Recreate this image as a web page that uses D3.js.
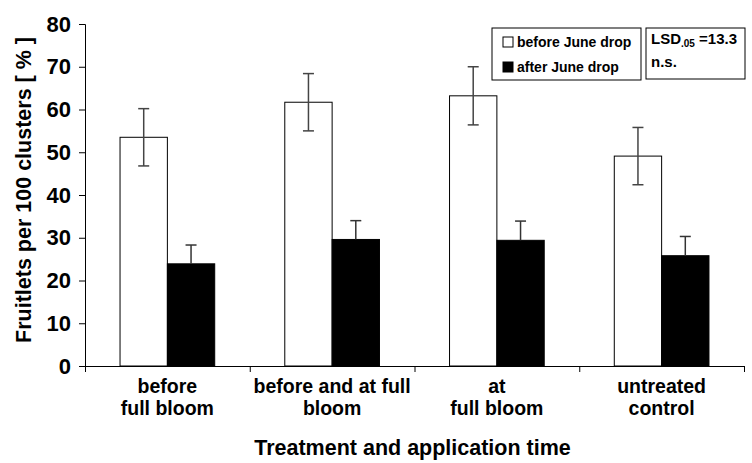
<!DOCTYPE html>
<html>
<head>
<meta charset="utf-8">
<script src="https://cdn.jsdelivr.net/npm/d3@7"></script>
<style>
  html, body { margin: 0; padding: 0; background: #fff; }
  svg text { font-family: "Liberation Sans", Arial, Helvetica, sans-serif; font-weight: bold; fill: #000; }
</style>
</head>
<body>
<svg id="chart" width="752" height="463"></svg>
<script>
// Treatment groups (two-line labels)
const categories = [
  ["before", "full bloom"],
  ["before and at full", "bloom"],
  ["at", "full bloom"],
  ["untreated", "control"]
];
const seriesNames = ["before June drop", "after June drop"];
const beforeDrop = [53.5, 61.7, 63.2, 49.1];
const afterDrop = [23.9, 29.6, 29.4, 25.8];
const beforeErr = [6.7, 6.7, 6.8, 6.7];
const afterErr = [4.4, 4.4, 4.5, 4.5];
const yTicks = [0, 10, 20, 30, 40, 50, 60, 70, 80];

const svg = d3.select("#chart");
const plotLeft = 85, plotRight = 744, plotTop = 24, plotBottom = 366;

const catIdx = categories.map((d, i) => i);
const x0 = d3.scaleBand().domain(catIdx).range([plotLeft, plotRight]).padding(0);
const x1 = d3.scaleBand().domain([0, 1]).range([0, x0.bandwidth()])
  .paddingInner(0).paddingOuter(0.74);
const y = d3.scaleLinear().domain([0, 80]).range([plotBottom, plotTop]);

const rows = catIdx.map(i => [
  { s: 0, v: beforeDrop[i], e: beforeErr[i] },
  { s: 1, v: afterDrop[i], e: afterErr[i] }
]);

// Bars
const g = svg.append("g");
const groups = g.selectAll("g.grp").data(rows).join("g")
  .attr("transform", (d, i) => `translate(${x0(i)},0)`);

groups.selectAll("rect").data(d => d).join("rect")
  .attr("x", d => x1(d.s))
  .attr("y", d => y(d.v))
  .attr("width", x1.bandwidth())
  .attr("height", d => y(0) - y(d.v))
  .attr("fill", d => d.s === 0 ? "#fff" : "#000")
  .attr("stroke", "#000")
  .attr("stroke-width", 1);

// Error bars
const errG = groups.selectAll("g.err").data(d => d).join("g")
  .attr("stroke", d => d.s === 0 ? "#444" : "#333")
  .attr("stroke-width", 1.5);
errG.append("line")
  .attr("x1", d => x1(d.s) + x1.bandwidth() / 2)
  .attr("x2", d => x1(d.s) + x1.bandwidth() / 2)
  .attr("y1", d => y(d.v + d.e))
  .attr("y2", d => y(d.s === 0 ? d.v - d.e : d.v));
errG.append("line")
  .attr("x1", d => x1(d.s) + x1.bandwidth() / 2 - 5.5)
  .attr("x2", d => x1(d.s) + x1.bandwidth() / 2 + 5.5)
  .attr("y1", d => y(d.v + d.e))
  .attr("y2", d => y(d.v + d.e));
errG.filter(d => d.s === 0).append("line")
  .attr("x1", d => x1(d.s) + x1.bandwidth() / 2 - 5.5)
  .attr("x2", d => x1(d.s) + x1.bandwidth() / 2 + 5.5)
  .attr("y1", d => y(d.v - d.e))
  .attr("y2", d => y(d.v - d.e));

// Y axis
const yAxis = svg.append("g")
  .attr("transform", `translate(${plotLeft},0)`)
  .call(d3.axisLeft(y).tickValues(yTicks).tickSize(6).tickPadding(8));
yAxis.selectAll("text").style("font-size", "22px");
yAxis.selectAll("path, line").attr("stroke", "#000");

// X axis with ticks at group boundaries
const xb = d3.scaleLinear().domain([0, categories.length]).range([plotLeft, plotRight]);
const xAxis = svg.append("g")
  .attr("transform", `translate(0,${plotBottom})`)
  .call(d3.axisBottom(xb).tickValues(d3.range(categories.length + 1)).tickSize(6).tickFormat(""));
xAxis.selectAll("path, line").attr("stroke", "#000");

// Category labels
const catText = svg.append("g").selectAll("text").data(categories).join("text")
  .attr("text-anchor", "middle")
  .attr("x", (d, i) => x0(i) + x0.bandwidth() / 2)
  .attr("y", 393)
  .style("font-size", "19.5px");
catText.append("tspan").attr("x", (d, i) => x0(i) + x0.bandwidth() / 2).attr("dy", 0).text(d => d[0]);
catText.append("tspan").attr("x", (d, i) => x0(i) + x0.bandwidth() / 2).attr("dy", 22).text(d => d[1]);

// Axis titles
svg.append("text")
  .attr("text-anchor", "middle")
  .attr("x", (plotLeft + plotRight) / 2 - 2)
  .attr("y", 455)
  .style("font-size", "21.5px")
  .text("Treatment and application time");

svg.append("text")
  .attr("text-anchor", "middle")
  .attr("transform", `translate(31,190) rotate(-90)`)
  .style("font-size", "21.5px")
  .text("Fruitlets per 100 clusters [ % ]");

// Legend
const leg = svg.append("g");
leg.append("rect").attr("x", 492).attr("y", 28).attr("width", 149).attr("height", 52)
  .attr("fill", "#fff").attr("stroke", "#000");
const items = leg.selectAll("g.item").data(seriesNames).join("g")
  .attr("transform", (d, i) => `translate(503,${47 + i * 25})`);
items.append("rect").attr("x", 0).attr("y", -10).attr("width", 10).attr("height", 10)
  .attr("fill", (d, i) => i === 0 ? "#fff" : "#000").attr("stroke", "#000");
items.append("text").attr("x", 14).attr("y", 0).style("font-size", "14px").text(d => d);

// LSD box
const lsd = svg.append("g");
lsd.append("rect").attr("x", 646).attr("y", 28).attr("width", 99).attr("height", 51)
  .attr("fill", "#fff").attr("stroke", "#000");
const lsdText = lsd.append("text").attr("x", 651).attr("y", 44).style("font-size", "15px");
lsdText.append("tspan").text("LSD");
lsdText.append("tspan").attr("dy", 3).style("font-size", "10px").text(".05");
lsdText.append("tspan").attr("dy", -3).text(" =13.3");
lsd.append("text").attr("x", 651).attr("y", 67).style("font-size", "15px").text("n.s.");
</script>
</body>
</html>
